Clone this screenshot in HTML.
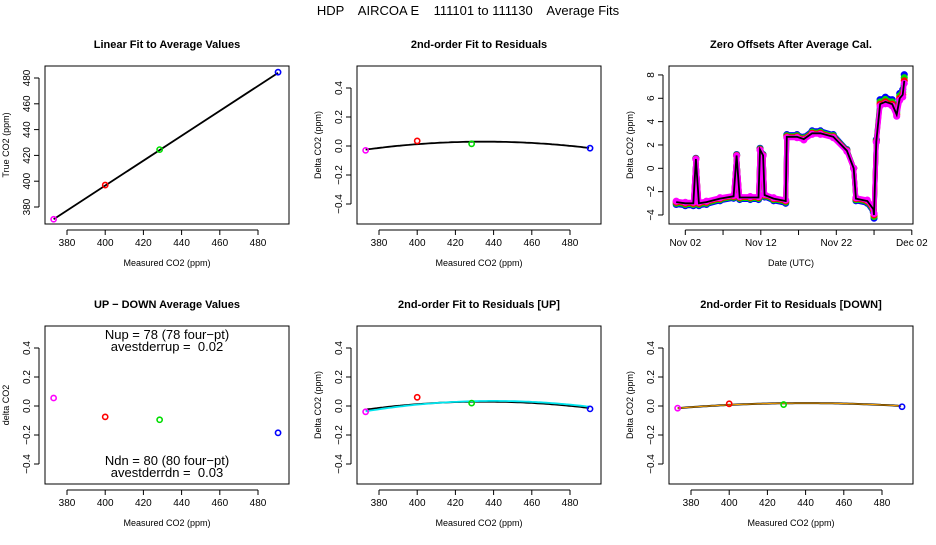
<!DOCTYPE html>
<html><head><meta charset="utf-8"><style>
body{margin:0;background:#fff}
svg{font-family:"Liberation Sans",sans-serif}
text{white-space:pre}
</style></head><body>
<svg id="s" width="936" height="540" xmlns="http://www.w3.org/2000/svg">
<text x="468" y="15" text-anchor="middle" font-size="13" style="white-space:pre">HDP    AIRCOA E    111101 to 111130    Average Fits</text>
</svg>
<script>
// ---- data ----
const calValues=[373,400,428.5,490.5];
const calColors=['#ff00ff','#ff0000','#00dd00','#0000ff'];
const trueValues=[370.5,397,424.5,484.5];
const linFit=[370.5,0.966]; // intercept at 373, slope
const resid=[-0.03,0.035,0.015,-0.015];
const residFit=[-1.43e-5,435,0.03];
const udValues=[0.055,-0.075,-0.095,-0.185];
const residUp=[-0.04,0.06,0.02,-0.02];
const residUpFit=[-1.6e-5,440,0.035];
const residDn=[-0.015,0.015,0.01,-0.005];
const residDnFit=[-7.8e-6,440,0.02];
const xTicks=[380,400,420,440,460,480];
const yTicksLin=[380,400,420,440,460,480];
const yTicksRes=[-0.4,-0.2,0.0,0.2,0.4];
const tsDays=[0.8,2.0,3.06,3.4,3.8,4.8,6.6,8.4,8.8,9.2,10.6,11.7,11.9,12.3,12.5,13.7,15.3,15.45,16.8,17.7,18.8,19.9,21.6,23.4,24.3,24.6,26.1,26.9,27.0,27.3,27.8,28.5,29.4,30.0,30.4,30.8,31.0];
const tsVals=[-2.9,-3.0,-3.0,0.8,-3.0,-2.9,-2.6,-2.4,1.1,-2.5,-2.5,-2.5,1.6,1.1,-2.3,-2.6,-2.8,2.7,2.7,2.5,3.0,3.0,2.7,1.5,0.0,-2.6,-2.8,-3.5,-4.0,2.3,5.5,5.7,5.5,4.6,6.0,6.3,7.5];
const tsGains=[1.07,1.035,1.0,0.97];
const tsGainColors=['#0000ff','#00dd00','#ff0000','#ff00ff'];
const tsYTicks=[-4,-2,0,2,4,6,8];
const tsXTickDays=[2,7,12,17,22,27,32];
const tsXLabels=['Nov 02','','Nov 12','','Nov 22','','Dec 02'];

const NS='http://www.w3.org/2000/svg';
const svg=document.getElementById('s');
function el(tag,attrs,parent,text){const e=document.createElementNS(NS,tag);for(const k in attrs)e.setAttribute(k,attrs[k]);if(text!==undefined)e.textContent=text;(parent||svg).appendChild(e);return e;}

function panel(col,row,title,name,xl,yl,xmap,ymap,xt,xtl,yt,ytl){
  const L=45+312*col,R=289+312*col,T=66+260*row,B=224+260*row;
  const g=el('g',{},svg);
  
  
  const t=el('text',{x:(L+R)/2,y:T-18,'text-anchor':'middle','font-size':11,'font-weight':'bold'},g,title);
  
  const f=el('rect',{x:L,y:T,width:R-L,height:B-T,fill:'none',stroke:'#000','stroke-width':1},g);
  
  const xa=el('g',{},g);
  el('line',{x1:xmap(xt[0]),x2:xmap(xt[xt.length-1]),y1:B+6,y2:B+6,stroke:'#000'},xa);
  xt.forEach((v,i)=>{const x=xmap(v);el('line',{x1:x,x2:x,y1:B+6,y2:B+11,stroke:'#000'},xa);
    if(xtl[i]!==''){const tx=el('text',{x:x,y:B+22,'text-anchor':'middle','font-size':10},xa,xtl[i]);}});
  const xlab=el('text',{x:(L+R)/2,y:B+42,'text-anchor':'middle','font-size':9},g,xl);
  
  const ya=el('g',{},g);
  el('line',{x1:L-6,x2:L-6,y1:ymap(yt[0]),y2:ymap(yt[yt.length-1]),stroke:'#000'},ya);
  yt.forEach((v,i)=>{const y=ymap(v);el('line',{x1:L-11,x2:L-6,y1:y,y2:y,stroke:'#000'},ya);
    const tx=el('text',{x:L-15,y:y,'text-anchor':'middle','font-size':10,transform:`rotate(-90 ${L-15} ${y})`},ya,ytl[i]);});
  const ylab=el('text',{x:L-36,y:(T+B)/2,'text-anchor':'middle','font-size':9,transform:`rotate(-90 ${L-36} ${(T+B)/2})`},g,yl);
  
  return {g,L,R,T,B};
}
function pts(g,xs,ys,xmap,ymap){xs.forEach((v,i)=>{const c=el('circle',{cx:xmap(v),cy:ymap(ys[i]),r:2.6,fill:'none',stroke:calColors[i],'stroke-width':1.6},g);
  });}
function curve(g,coef,xmap,ymap,color,w,nm){let d='';for(let x=373;x<=490.5;x+=1.5){d+=(d?'L':'M')+xmap(x).toFixed(1)+','+ymap(coef[0]*(x-coef[1])**2+coef[2]).toFixed(1);}
  const p=el('path',{d:d,fill:'none',stroke:color,'stroke-width':w},g);}
const fmt=v=>v.toFixed(1).replace('-','−');
const mx=c=>v=>67+312*c+(v-380)*1.91;
const myRes=r=>v=>146+260*r-v*145;

// Panel 1
{const xm=mx(0),ym=v=>207-(v-380)*1.29;
 const p=panel(0,0,'Linear Fit to Average Values','linear-fit-panel','Measured CO2 (ppm)','True CO2 (ppm)',xm,ym,xTicks,xTicks.map(String),yTicksLin,yTicksLin.map(String));
 const l=el('line',{x1:xm(373),y1:ym(linFit[0]),x2:xm(490.5),y2:ym(linFit[0]+linFit[1]*(490.5-373)),stroke:'#000','stroke-width':1.8},p.g);
 
 pts(p.g,calValues,trueValues,xm,ym);}
// Panel 2
{const xm=mx(1),ym=myRes(0);
 const p=panel(1,0,'2nd-order Fit to Residuals','residual-fit-panel','Measured CO2 (ppm)','Delta CO2 (ppm)',xm,ym,xTicks,xTicks.map(String),yTicksRes,yTicksRes.map(fmt));
 curve(p.g,residFit,xm,ym,'#000',1.8,'residual-fit-curve');pts(p.g,calValues,resid,xm,ym);}
// Panel 3
{const xm=d=>685.3+(d-2)*7.55,ym=v=>168.3-v*11.67;
 const p=panel(2,0,'Zero Offsets After Average Cal.','zero-offsets-panel','Date (UTC)','Delta CO2 (ppm)',xm,ym,tsXTickDays,tsXLabels,tsYTicks,tsYTicks.map(v=>String(v).replace('-','−')));
 tsGains.forEach((gn,k)=>{const d=tsDays.map((dd,i)=>(i?'L':'M')+xm(dd).toFixed(1)+','+ym(tsVals[i]*gn).toFixed(1)).join('');
   const pl=el('path',{d:d,fill:'none',stroke:tsGainColors[k],'stroke-width':5,'stroke-linejoin':'round','stroke-linecap':'round'},p.g);
   
   tsDays.forEach((dd,i)=>{const c=el('circle',{cx:xm(dd),cy:ym(tsVals[i]*gn),r:2.8,fill:'none',stroke:tsGainColors[k],'stroke-width':1.5},p.g);
     });});
 const d=tsDays.map((dd,i)=>(i?'L':'M')+xm(dd).toFixed(1)+','+ym(tsVals[i]).toFixed(1)).join('');
 const bl=el('path',{d:d,fill:'none',stroke:'#000','stroke-width':1.8},p.g);}
// Panel 4
{const xm=mx(0),ym=myRes(1);
 const p=panel(0,1,'UP − DOWN Average Values','up-down-panel','Measured CO2 (ppm)','delta CO2',xm,ym,xTicks,xTicks.map(String),yTicksRes,yTicksRes.map(fmt));
 pts(p.g,calValues,udValues,xm,ym);
 [['Nup = 78 (78 four−pt)',339],['avestderrup =  0.02',351],['Ndn = 80 (80 four−pt)',465],['avestderrdn =  0.03',477]].forEach(a=>{
  const t=el('text',{x:167,y:a[1],'text-anchor':'middle','font-size':13},p.g,a[0]);});}
// Panel 5
{const xm=mx(1),ym=myRes(1);
 const p=panel(1,1,'2nd-order Fit to Residuals [UP]','residual-up-panel','Measured CO2 (ppm)','Delta CO2 (ppm)',xm,ym,xTicks,xTicks.map(String),yTicksRes,yTicksRes.map(fmt));
 curve(p.g,residFit,xm,ym,'#000',1.8,'residual-fit-curve');curve(p.g,residUpFit,xm,ym,'#00e5ee',1.8,'residual-up-fit-curve');pts(p.g,calValues,residUp,xm,ym);}
// Panel 6
{const xm=mx(2),ym=myRes(1);
 const p=panel(2,1,'2nd-order Fit to Residuals [DOWN]','residual-down-panel','Measured CO2 (ppm)','Delta CO2 (ppm)',xm,ym,xTicks,xTicks.map(String),yTicksRes,yTicksRes.map(fmt));
 curve(p.g,residDnFit,xm,ym,'#000',2,'residual-fit-curve');curve(p.g,residDnFit,xm,ym,'#ffa500',1,'residual-down-fit-curve');pts(p.g,calValues,residDn,xm,ym);}
</script>
</body></html>
